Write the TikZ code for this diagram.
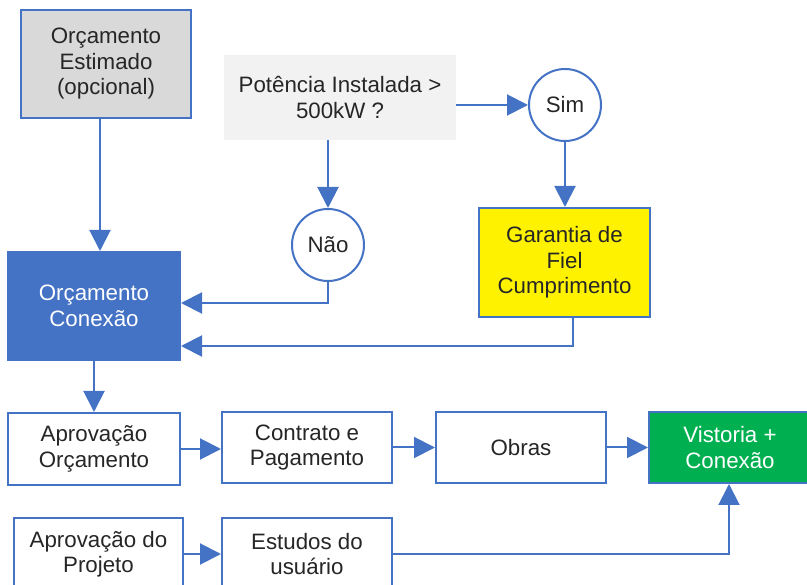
\documentclass[tikz,border=0pt]{standalone}
\usepackage{fontspec}
\setmainfont{Liberation Sans}
\usetikzlibrary{arrows.meta}
\definecolor{linha}{HTML}{4472C4}
\definecolor{cinza}{HTML}{D9D9D9}
\definecolor{cinzaclaro}{HTML}{F2F2F2}
\definecolor{verde}{HTML}{00B050}
\definecolor{texto}{HTML}{262626}
\begin{document}
\begin{tikzpicture}[x=1pt,y=-1pt,
    every node/.style={font=\fontsize{22.3}{25.5}\selectfont,align=center,inner sep=0pt,text=texto},
    caixa/.style={draw=linha,line width=2pt,fill=white},
    bola/.style={circle,draw=linha,line width=2pt,fill=white,minimum size=72pt},
    seta/.style={draw=linha,line width=2pt,-{Triangle[length=21pt,width=21pt]}}]
  \useasboundingbox (0,0) rectangle (807,585);
  \node[caixa,fill=cinza,minimum width=170pt,minimum height=108pt] (est) at (106,64) {Orçamento\\Estimado\\(opcional)};
  \node[fill=cinzaclaro,minimum width=232pt,minimum height=85pt] (pot) at (340,97.5) {Potência Instalada >\\500kW ?};
  \node[bola] (sim) at (565,105) {Sim};
  \node[bola] (nao) at (328,245) {Não};
  \node[caixa,fill=yellow,minimum width=171pt,minimum height=109pt] (gar) at (564.5,262.5) {Garantia de\\Fiel\\Cumprimento};
  \node[caixa,fill=linha,text=white,minimum width=172pt,minimum height=108pt] (orc) at (94,306) {Orçamento\\Conexão};
  \node[caixa,minimum width=172pt,minimum height=72pt] (apo) at (94,449) {Aprovação\\Orçamento};
  \node[caixa,minimum width=170pt,minimum height=71pt] (con) at (307,447.5) {Contrato e\\Pagamento};
  \node[caixa,minimum width=170pt,minimum height=71pt] (obr) at (521,447.5) {Obras};
  \node[caixa,fill=verde,text=white,minimum width=162pt,minimum height=71pt] (vis) at (730,447.5) {Vistoria +\\Conexão};
  \node[caixa,minimum width=169pt,minimum height=72pt] (apj) at (98.5,554) {Aprovação do\\Projeto};
  \node[caixa,minimum width=170pt,minimum height=72pt] (etu) at (307,554) {Estudos do\\usuário};

  \draw[seta] ([xshift=-6pt]est.south) -- ([xshift=6pt]orc.north);
  \draw[seta] (pot.east |- sim.west) -- (sim.west);
  \draw[seta] (nao.north |- pot.south) -- (nao.north);
  \draw[seta] (sim.south) -- (sim.south |- gar.north);
  \draw[seta] (nao.south) |- ([yshift=3pt]orc.east);
  \draw[seta] ([xshift=8pt]gar.south) |- ([yshift=-40pt]orc.east);
  \draw[seta] (orc.south) -- (apo.north);
  \draw[seta] (apo.east) -- (apo.east -| con.west);
  \draw[seta] (con.east) -- (obr.west);
  \draw[seta] (obr.east) -- (vis.west);
  \draw[seta] (apj.east) -- (etu.west);
  \draw[seta] (etu.east) -| ([xshift=-1pt]vis.south);
\end{tikzpicture}
\end{document}
